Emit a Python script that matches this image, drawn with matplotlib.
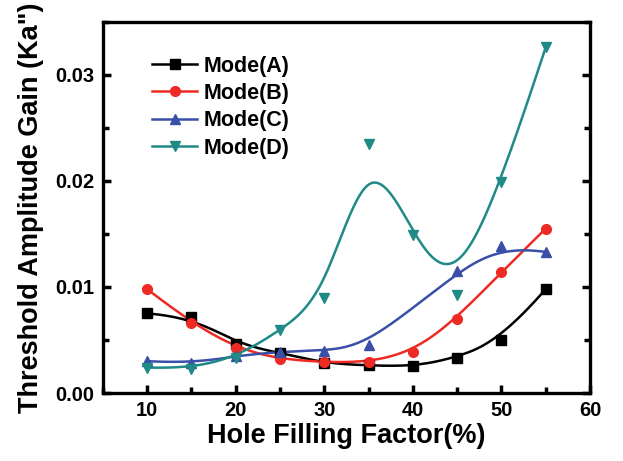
import numpy as np
import matplotlib
matplotlib.use("Agg")
from matplotlib import pyplot as plt
from matplotlib.ticker import MultipleLocator

# data
x_all = [10, 15, 20, 25, 30, 35, 40, 45, 50, 55]
mode_a = [0.0075, 0.0072, 0.0046, 0.0038, 0.0028, 0.0026, 0.0025, 0.0033, 0.0050, 0.0098]
mode_b = [0.0098, 0.0066, 0.0042, 0.0032, 0.0029, 0.0029, 0.0039, 0.0070, 0.0114, 0.0155]
x_c = [10, 15, 20, 25, 30, 35, 45, 50, 55]
mode_c = [0.0030, 0.0028, 0.0035, 0.0039, 0.0040, 0.0045, 0.0115, 0.0139, 0.0133]
mode_d = [0.0024, 0.0023, 0.0033, 0.0059, 0.0090, 0.0235, 0.0149, 0.0092, 0.0199, 0.0326]

series = [
    ("Mode(A)", x_all, mode_a, "black", "s"),
    ("Mode(B)", x_all, mode_b, "#ee2a24", "o"),
    ("Mode(C)", x_c, mode_c, "#3a4fa8", "^"),
    ("Mode(D)", x_all, mode_d, "#1f8a86", "v"),
]


def bspline(px, py, num=300):
	# clamped uniform cubic B-spline, data points used as control points
	pts = np.column_stack([px, py]).astype(float)
	n = len(pts)
	k = 3
	knots = np.concatenate([np.zeros(k), np.arange(n - k + 1), np.full(k, n - k)]).astype(float)
	t = np.linspace(0, n - k, num)
	t[-1] -= 1e-9
	out = []
	for tv in t:
		# Cox-de Boor basis
		N = np.array([1.0 if knots[i] <= tv < knots[i + 1] else 0.0 for i in range(len(knots) - 1)])
		for d in range(1, k + 1):
			newN = np.zeros(len(knots) - 1 - d)
			for i in range(len(newN)):
				a = 0.0
				den1 = knots[i + d] - knots[i]
				den2 = knots[i + d + 1] - knots[i + 1]
				if den1 > 0:
					a += (tv - knots[i]) / den1 * N[i]
				if den2 > 0:
					a += (knots[i + d + 1] - tv) / den2 * N[i + 1]
				newN[i] = a
			N = newN
		out.append(N @ pts)
	out = np.array(out)
	return out[:, 0], out[:, 1]


plt.rcParams['font.family'] = ['Liberation Sans', 'DejaVu Sans']
plt.rcParams['font.weight'] = 'bold'

fig = plt.figure(figsize=(6.23, 4.61), dpi=100)
ax = fig.add_axes([0.165, 0.1475, 0.782, 0.805])

for label, xs, ys, color, marker in series:
	sx, sy = bspline(xs, ys)
	ax.plot(sx, sy, color=color, lw=1.8, zorder=2)
	ax.plot(xs, ys, linestyle="none", marker=marker, color=color, ms=7, zorder=3)
	ax.plot([], [], color=color, lw=1.8, marker=marker, ms=7, label=label)

ax.set_xlim(5, 60)
ax.set_ylim(0, 0.035)
ax.xaxis.set_major_locator(MultipleLocator(10))
ax.xaxis.set_minor_locator(MultipleLocator(5))
ax.yaxis.set_major_locator(MultipleLocator(0.01))
ax.yaxis.set_minor_locator(MultipleLocator(0.005))
ax.yaxis.set_major_formatter(matplotlib.ticker.FormatStrFormatter("%.2f"))

for sp in ax.spines.values():
	sp.set_linewidth(2.4)

ax.tick_params(which="major", direction="in", length=6, width=2.5, labelsize=14.5, pad=6)
ax.tick_params(which="minor", direction="in", length=4, width=2.5)
ax.tick_params(which="both", right=True)

ax.set_xlabel("Hole Filling Factor(%)", fontsize=19.5, fontweight="bold", labelpad=2)
ax.set_ylabel('Threshold Amplitude Gain (Ka")', fontsize=19.5, fontweight="bold", labelpad=8)

ax.legend(loc="upper left", bbox_to_anchor=(0.07, 0.95), frameon=False, fontsize=15.5,
          handlelength=2.1, handletextpad=0.3, labelspacing=0.3, borderpad=0.2)

fig.savefig("out.png", dpi=100)
